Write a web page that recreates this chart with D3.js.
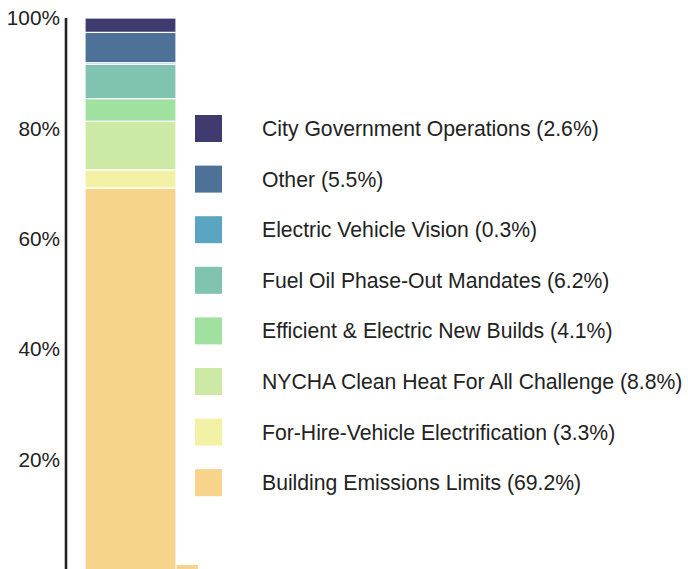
<!DOCTYPE html>
<html>
<head>
<meta charset="utf-8">
<script src="https://cdn.jsdelivr.net/npm/d3@7"></script>
<style>
  html, body { margin: 0; padding: 0; background: #fff; }
  svg { display: block; }
  text { font-family: "Liberation Sans", Arial, sans-serif; fill: #222; }
</style>
</head>
<body>
<svg id="chart" width="688" height="569"></svg>
<script>
// Share of emissions reductions by policy (percent), bottom to top of the stack
const categories = [
  "Building Emissions Limits",
  "For-Hire-Vehicle Electrification",
  "NYCHA Clean Heat For All Challenge",
  "Efficient & Electric New Builds",
  "Fuel Oil Phase-Out Mandates",
  "Electric Vehicle Vision",
  "Other",
  "City Government Operations"
];
const shares = [69.2, 3.3, 8.8, 4.1, 6.2, 0.3, 5.5, 2.6];
const colors = ["#f7d38b", "#f3f1a6", "#cce9a5", "#a1e19f", "#80c3b0", "#5aa6c1", "#4e7197", "#3f3b6f"];
const tickValues = [20, 40, 60, 80, 100];

const svg = d3.select("#chart");

const y = d3.scaleLinear().domain([0, 100]).range([570, 18]);
const x = d3.scaleBand().domain(["total"]).range([85, 176]).padding(0);

// cumulative stack
const stackData = [];
let acc = 0;
shares.forEach((v, i) => {
  stackData.push({ name: categories[i], value: v, y0: acc, y1: acc + v, color: colors[i] });
  acc += v;
});

// small tail along the baseline to the right of the bar
svg.append("rect")
  .attr("x", x("total") + x.bandwidth())
  .attr("y", y(0.9))
  .attr("width", 22)
  .attr("height", y(0) - y(0.9))
  .attr("fill", colors[0]);

svg.append("g")
  .selectAll("rect")
  .data(stackData)
  .join("rect")
  .attr("x", x("total"))
  .attr("width", x.bandwidth())
  .attr("y", d => y(d.y1))
  .attr("height", d => y(d.y0) - y(d.y1))
  .attr("fill", d => d.color)
  .attr("stroke", "#fff")
  .attr("stroke-width", 1.2);

// y axis: vertical line with percent labels, no tick marks
const axis = d3.axisLeft(y)
  .tickValues(tickValues)
  .tickSize(0)
  .tickPadding(6)
  .tickFormat(d => d + "%");

const ag = svg.append("g")
  .attr("transform", "translate(66,0)")
  .call(axis);
ag.select(".domain").remove();
ag.selectAll("text")
  .style("font-family", "'Liberation Sans', Arial, sans-serif")
  .style("font-size", "20.8px")
  .attr("fill", "#222");
svg.append("line")
  .attr("x1", 66).attr("x2", 66)
  .attr("y1", y(100)).attr("y2", 569)
  .attr("stroke", "#222")
  .attr("stroke-width", 2.6);

// legend, top entry first
const legendItems = stackData.slice().reverse();
const legend = svg.append("g")
  .selectAll("g")
  .data(legendItems)
  .join("g")
  .attr("transform", (d, i) => `translate(195,${115 + i * 50.6})`);

legend.append("rect")
  .attr("width", 27)
  .attr("height", 27)
  .attr("fill", d => d.color);

legend.append("text")
  .attr("x", 67)
  .attr("y", 13.5)
  .attr("dy", "0.35em")
  .style("font-size", "21.2px")
  .text(d => `${d.name} (${d.value.toFixed(1)}%)`);
</script>
</body>
</html>
